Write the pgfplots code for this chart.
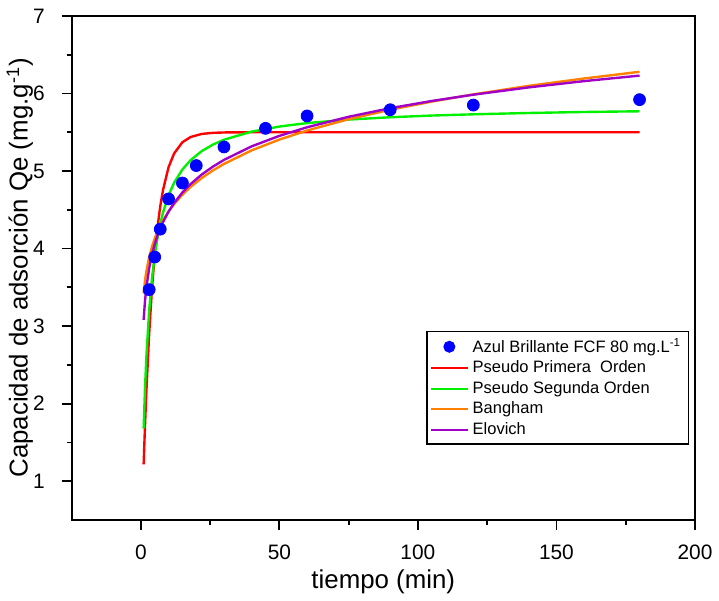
\documentclass[border=0pt]{standalone}
\usepackage{fontspec}
\setmainfont{Liberation Sans}
\usepackage{pgfplots}
\pgfplotsset{compat=1.18}
\definecolor{cblue}{RGB}{0,0,255}
\definecolor{cred}{RGB}{255,0,0}
\definecolor{cgreen}{RGB}{0,240,0}
\definecolor{corange}{RGB}{255,128,0}
\definecolor{cpurple}{RGB}{160,0,200}
\begin{document}
\begin{tikzpicture}
\begin{axis}[
  scale only axis,
  width=313.5pt, height=253.5pt,
  xmin=-25, xmax=200, ymin=0.5, ymax=7,
  xtick={0,50,100,150,200}, ytick={1,2,3,4,5,6,7},
  minor x tick num=1, minor y tick num=1,
  xtick pos=bottom, ytick pos=left,
  tick align=outside,
  major tick length=5pt, minor tick length=2.5pt,
  every tick/.style={black, line width=0.9pt},
  axis line style={line width=1pt},
  /pgf/number format/assume math mode=true,
  tick label style={font=\fontsize{10.5}{12}\selectfont},
  xticklabel style={anchor=north, yshift=-4pt},
  yticklabel style={anchor=east, xshift=-5pt},
  xlabel={tiempo (min)},
  ylabel={Capacidad de adsorción Qe (mg.g\textsuperscript{-1})},
  label style={font=\fontsize{13}{15}\selectfont},
  xlabel style={at={(axis description cs:0.5,-0.122)}, anchor=center},
  ylabel style={at={(axis description cs:-0.083,0.5)}, anchor=center},
  legend style={at={(axis description cs:0.99,0.375)}, anchor=north east,
    font=\fontsize{8.3}{10}\selectfont, draw=black, line width=0.6pt,
    row sep=-1.2pt, inner sep=1.5pt},
  legend cell align=left,
  legend image post style={line width=1pt},
  legend image code/.code={\draw[#1] (0cm,0cm) -- (0.65cm,0cm);},
]
\addplot[only marks, mark=*, mark size=3pt, color=cblue,
  legend image code/.code={\draw[cblue,fill=cblue] (0.325cm,0cm) circle (2.5pt);}]
  coordinates {(3,3.47) (5,3.89) (7,4.25) (10,4.64) (15,4.845) (20,5.07) (30,5.31) (45,5.55) (60,5.71) (90,5.79) (120,5.85) (180,5.92)};
\addlegendentry{Azul Brillante FCF 80 mg.L\textsuperscript{-1}}
\addplot[cred, line width=1.2pt] coordinates {
(1,1.217) (1.5,1.720) (2,2.164) (3,2.902) (4,3.477) (5,3.924) (6,4.273) (7,4.544) (8,4.756) (10,5.049) (12,5.226) (15,5.371) (18,5.439) (22,5.478) (26,5.492) (30,5.497) (40,5.5) (60,5.5) (90,5.5) (120,5.5) (150,5.5) (180,5.5)};
\addlegendentry{Pseudo Primera\ \ Orden}
\addplot[cgreen, line width=1.2pt] coordinates {
(1,1.680) (1.5,2.204) (2,2.611) (3,3.202) (4,3.610) (5,3.910) (6,4.138) (7,4.319) (8,4.465) (10,4.687) (12,4.848) (15,5.020) (18,5.141) (22,5.257) (26,5.340) (30,5.403) (40,5.508) (50,5.573) (60,5.618) (75,5.663) (90,5.693) (105,5.715) (120,5.731) (140,5.748) (160,5.761) (180,5.770)};
\addlegendentry{Pseudo Segunda Orden}
\addplot[corange, line width=1.2pt] coordinates {
(1,3.420) (1.5,3.586) (2,3.709) (3,3.889) (4,4.022) (5,4.129) (6,4.218) (7,4.295) (8,4.362) (10,4.477) (12,4.574) (15,4.695) (18,4.796) (22,4.910) (26,5.007) (30,5.091) (40,5.266) (50,5.405) (60,5.522) (75,5.668) (90,5.790) (105,5.895) (120,5.988) (140,6.098) (160,6.193) (180,6.279)};
\addlegendentry{Bangham}
\addplot[cpurple, line width=1.2pt] coordinates {
(1,3.080) (1.5,3.326) (2,3.500) (3,3.746) (4,3.921) (5,4.056) (6,4.167) (7,4.260) (8,4.341) (10,4.477) (12,4.587) (15,4.723) (18,4.833) (22,4.955) (26,5.056) (30,5.143) (40,5.318) (50,5.453) (60,5.564) (75,5.699) (90,5.810) (105,5.903) (120,5.984) (140,6.078) (160,6.159) (180,6.230)};
\addlegendentry{Elovich}
\end{axis}
\path ([xshift=-36pt,yshift=-40.5pt]current axis.south west) rectangle ([xshift=10pt,yshift=8pt]current axis.north east);
\end{tikzpicture}
\end{document}
